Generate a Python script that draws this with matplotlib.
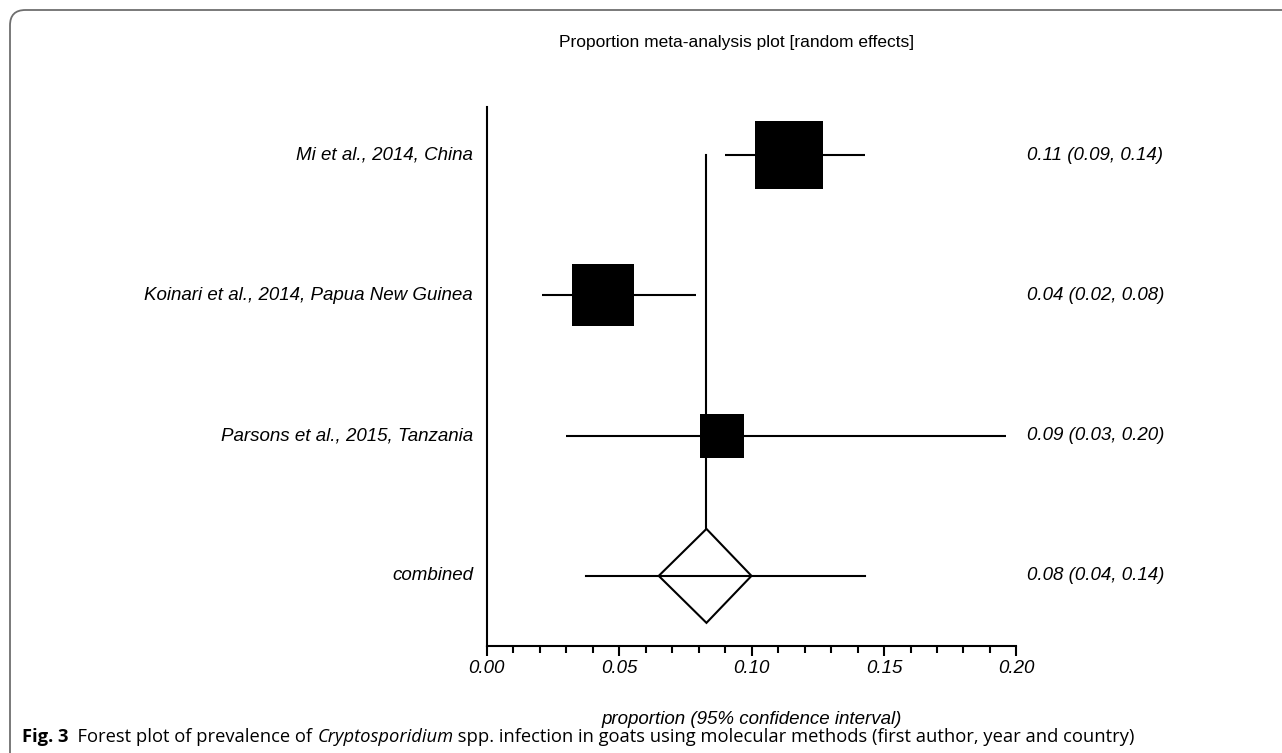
import matplotlib
matplotlib.use("Agg")
import matplotlib.pyplot as plt
import matplotlib.patches as patches
import matplotlib.transforms as mtrans

# data
studies = ['Mi et al., 2014, China',
           'Koinari et al., 2014, Papua New Guinea',
           'Parsons et al., 2015, Tanzania']
est = [0.114, 0.044, 0.089]
lo = [0.090, 0.021, 0.030]
hi = [0.143, 0.079, 0.196]
ci_text = ['0.11 (0.09, 0.14)', '0.04 (0.02, 0.08)', '0.09 (0.03, 0.20)']

pooled_est = 0.083
pooled_lo = 0.065
pooled_hi = 0.100
pooled_line = [0.0375, 0.143]
pooled_text = '0.08 (0.04, 0.14)'

W, H = 1282, 753
fig = plt.figure(figsize=(W / 100, H / 100), dpi=100)
ax = fig.add_axes([486.5 / W, (H - 646) / H, 530 / W, (646 - 107) / H])

lw = 1.5
rows = [4, 3, 2]
box_ms = [49, 45, 31]   # marker side in points

for y, e, l, h, ms in zip(rows, est, lo, hi, box_ms):
    ax.plot([l, h], [y, y], color='black', lw=lw, solid_capstyle='butt', zorder=2)
    ax.plot(e, y, marker='s', ms=ms, color='black', mew=0, zorder=3)

# pooled estimate
yc = 1
dh = 0.335
diamond = patches.Polygon([[pooled_lo, yc], [pooled_est, yc + dh],
                           [pooled_hi, yc], [pooled_est, yc - dh]],
                          closed=True, fc='white', ec='black', lw=lw, zorder=3)
ax.add_patch(diamond)
ax.plot([pooled_est, pooled_est], [rows[0], yc + dh], color='black', lw=lw, zorder=1)
ax.plot(pooled_line, [yc, yc], color='black', lw=lw, zorder=4)

ax.set_xlim(0, 0.2)
ax.set_ylim(0.5, 4.343)
for s in ['top', 'right']:
    ax.spines[s].set_visible(False)
ax.spines['left'].set_linewidth(lw)
ax.spines['bottom'].set_linewidth(lw)
ax.set_yticks([])
ax.set_xticks([0.0, 0.05, 0.10, 0.15, 0.20])
ax.set_xticks([i / 100 for i in range(21)], minor=True)
ax.set_xticklabels(['0.00', '0.05', '0.10', '0.15', '0.20'],
                   fontstyle='italic', family='Liberation Sans', fontsize=13.5)
ax.tick_params(axis='x', which='major', length=7, width=lw, direction='out', pad=3)
ax.tick_params(axis='x', which='minor', length=5, width=lw, direction='out')

tr = mtrans.blended_transform_factory(fig.transFigure, ax.transData)
txt = dict(family='Liberation Sans', fontstyle='italic', fontsize=13.5, va='center')
for y, name, ct in zip(rows, studies, ci_text):
    fig.text(473 / W, y, name, transform=tr, ha='right', **txt)
    fig.text(1027 / W, y, ct, transform=tr, ha='left', **txt)
fig.text(473 / W, yc, 'combined', transform=tr, ha='right', **txt)
fig.text(1027 / W, yc, pooled_text, transform=tr, ha='left', **txt)

fig.text(737 / W, 1 - 42 / H, 'Proportion meta-analysis plot [random effects]',
         family='Liberation Sans', fontsize=12.5, ha='center', va='center')
fig.text(752 / W, 1 - 719 / H, 'proportion (95% confidence interval)',
         family='Liberation Sans', fontstyle='italic', fontsize=13.5,
         ha='center', va='center')

# frame
frame = patches.FancyBboxPatch((10 / W, -20 / H), (W + 30) / W, (H + 10) / H,
                               boxstyle='round,pad=0,rounding_size=0.012',
                               transform=fig.transFigure, fc='none',
                               ec='#6e6e6e', lw=1.3, mutation_aspect=W / H)
fig.patches.append(frame)

# caption
cap = [('Fig. 3', 'bold', 'normal'),
       ('  Forest plot of prevalence of ', 'normal', 'normal'),
       ('Cryptosporidium', 'normal', 'italic'),
       (' spp. infection in goats using molecular methods (first author, year and country)',
        'normal', 'normal')]
fig.canvas.draw()
r = fig.canvas.get_renderer()
x0 = 22
for s, wgt, sty in cap:
    t = fig.text(x0 / W, 1 - 737 / H, s, family='Open Sans', fontsize=13.2,
                 fontweight=wgt, fontstyle=sty, va='center', ha='left')
    x0 += t.get_window_extent(r).width

fig.savefig('out.png', dpi=100)
